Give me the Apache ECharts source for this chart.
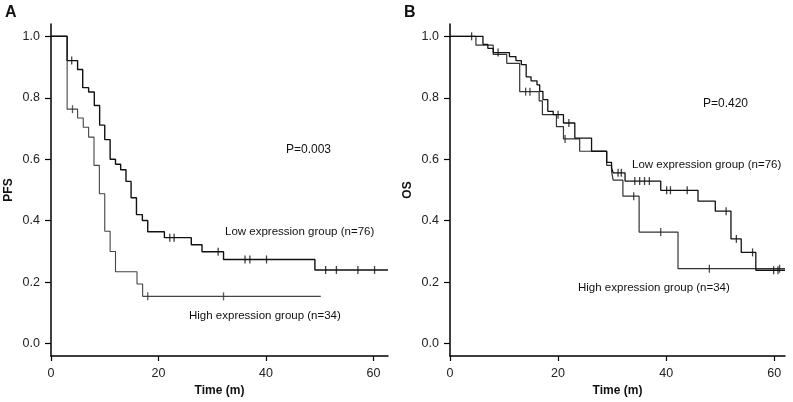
<!DOCTYPE html>
<html>
<head>
<meta charset="utf-8">
<script src="https://cdn.jsdelivr.net/npm/echarts@6/dist/echarts.min.js"></script>
<style>
html,body{margin:0;padding:0;background:#fff;}
#chart{width:793px;height:402px;}
</style>
</head>
<body>
<div id="chart"></div>
<script>
// ---------- Data ----------
// Panel A (PFS)
const timesA_low  = [0,3,4.95,5.9,7.0,8.06,9.05,10.0,11.0,12.0,12.96,13.95,14.9,15.9,17.0,18.0,21.1,26.1,28.1,32.1,49.1,62.7];
const survA_low   = [1,0.921,0.892,0.833,0.819,0.775,0.711,0.664,0.600,0.584,0.566,0.528,0.475,0.420,0.401,0.364,0.345,0.322,0.299,0.274,0.240,0.240];
const censA_low   = [3.85,22.1,22.9,31.1,36.1,37.0,40.1,51.1,53.1,57.1,60.2];

const timesA_high = [0,3,4.95,6.0,7.0,8.0,9.0,10.0,11.0,12.0,16.0,17.05,50.2];
const survA_high  = [1,0.763,0.734,0.704,0.672,0.580,0.488,0.366,0.300,0.234,0.194,0.154,0.154];
const censA_high  = [4.0,18.0,32.1];

// Panel B (OS)
const timesB_low  = [0,6.1,7.0,8.0,11.0,12.2,13.2,14.1,15.0,16.1,16.6,17.2,18.1,19.1,21.0,23.1,26.2,29.0,29.9,30.2,32.4,39.0,45.9,49.1,52.0,53.9,56.6,62.0];
const survB_low   = [1,0.974,0.961,0.947,0.934,0.921,0.908,0.868,0.855,0.842,0.821,0.794,0.756,0.745,0.718,0.669,0.626,0.590,0.572,0.556,0.529,0.499,0.464,0.431,0.341,0.297,0.239,0.239];
const censB_low   = [4.0,8.9,20.0,22.0,31.1,31.7,34.2,35.1,36.0,36.9,40.1,40.8,43.9,51.1,53.0,56.0,59.9,60.7];

const timesB_high = [0,4.8,8.0,10.5,12.9,16.5,17.1,19.7,21.0,24.0,29.0,29.9,30.2,32.0,35.0,42.2,62.0];
const survB_high  = [1,0.971,0.941,0.912,0.820,0.790,0.745,0.706,0.666,0.626,0.580,0.561,0.532,0.480,0.363,0.244,0.244];
const censB_high  = [14.0,14.8,21.3,34.0,39.0,48.0,61.0];

const xTicks = [0,20,40,60];
const yTicks = [0,0.2,0.4,0.6,0.8,1.0];
const labelsText = {
  pA: 'P=0.003', pB: 'P=0.420',
  low: 'Low expression group (n=76)', high: 'High expression group (n=34)'
};

// ---------- helpers ----------
function pairs(ts, vs){ return ts.map((t,i)=>[t, vs[i]]); }
function stepAt(ts, vs, t){
  let v = vs[0];
  for (let i=0;i<ts.length;i++){ if (ts[i] <= t) v = vs[i]; }
  return v;
}
function censorPts(cs, ts, vs){ return cs.map(t=>[t, stepAt(ts, vs, t)]); }

const FONT = '"Liberation Sans", Arial, sans-serif';
const axisColor = '#000';

function xAxisCfg(gi, max){
  return {
    gridIndex: gi, type:'value', min:0, max:max,
    name:'Time (m)', nameLocation:'middle', nameGap:29,
    nameTextStyle:{fontFamily:FONT, fontSize:12, fontWeight:'bold', color:'#111'},
    axisLine:{show:true, onZero:false, lineStyle:{color:axisColor, width:1.5}},
    axisTick:{show:true, length:5, customValues:xTicks, lineStyle:{color:axisColor, width:1.2}},
    axisLabel:{customValues:xTicks, fontFamily:FONT, fontSize:12.5, color:'#222', margin:11},
    splitLine:{show:false}
  };
}
function yAxisCfg(gi, name){
  return {
    gridIndex: gi, type:'value', min:-0.04, max:1.04,
    name:name, nameLocation:'middle', nameGap:36, nameRotate:90,
    nameTextStyle:{fontFamily:FONT, fontSize:12, fontWeight:'bold', color:'#111'},
    axisLine:{show:true, onZero:false, lineStyle:{color:axisColor, width:1.5}},
    axisTick:{show:true, length:6, customValues:yTicks, lineStyle:{color:axisColor, width:1.2}},
    axisLabel:{customValues:yTicks, fontFamily:FONT, fontSize:12.5, color:'#222', margin:11,
               formatter:v=>Number(v).toFixed(1)},
    splitLine:{show:false}
  };
}
function curve(gi, ts, vs, color, width, z){
  return {type:'line', xAxisIndex:gi, yAxisIndex:gi, data:pairs(ts,vs), step:'end',
          showSymbol:false, symbol:'none', silent:true, z:z,
          lineStyle:{color:color, width:width}};
}
function censors(gi, cs, ts, vs, color){
  return {type:'scatter', xAxisIndex:gi, yAxisIndex:gi, data:censorPts(cs,ts,vs),
          symbol:'rect', symbolSize:[1.3,8], silent:true, z:5,
          itemStyle:{color:color}};
}
function txt(x, y, s){
  return {type:'text', left:x, top:y, style:{text:s, fontFamily:FONT, fontSize:11.5, fill:'#111'}};
}

const chart = echarts.init(document.getElementById('chart'), null, {renderer:'canvas'});
chart.setOption({
  backgroundColor:'#fff',
  animation:false,
  grid:[
    {left:51, top:24, width:337, height:332},
    {left:450, top:24, width:335, height:332}
  ],
  xAxis:[xAxisCfg(0, 62.7), xAxisCfg(1, 62.0)],
  yAxis:[yAxisCfg(0,'PFS'), yAxisCfg(1,'OS')],
  series:[
    curve(0, timesA_high, survA_high, '#444', 1.1, 3),
    curve(0, timesA_low,  survA_low,  '#111', 1.4, 4),
    censors(0, censA_high, timesA_high, survA_high, '#333'),
    censors(0, censA_low,  timesA_low,  survA_low,  '#111'),
    curve(1, timesB_high, survB_high, '#333', 1.2, 3),
    curve(1, timesB_low,  survB_low,  '#111', 1.3, 4),
    censors(1, censB_high, timesB_high, survB_high, '#222'),
    censors(1, censB_low,  timesB_low,  survB_low,  '#111')
  ],
  graphic:[
    {type:'text', left:5, top:5, style:{text:'A', fontFamily:FONT, fontSize:16, fontWeight:'bold', fill:'#111'}},
    {type:'text', left:404, top:5, style:{text:'B', fontFamily:FONT, fontSize:16, fontWeight:'bold', fill:'#111'}},
    {type:'text', left:286, top:144, style:{text:labelsText.pA, fontFamily:FONT, fontSize:12, fill:'#111'}},
    {type:'text', left:703, top:98, style:{text:labelsText.pB, fontFamily:FONT, fontSize:12, fill:'#111'}},
    txt(225, 226, labelsText.low),
    txt(189, 310, labelsText.high),
    txt(632, 159, labelsText.low),
    txt(578, 282, labelsText.high)
  ]
});
</script>
</body>
</html>
